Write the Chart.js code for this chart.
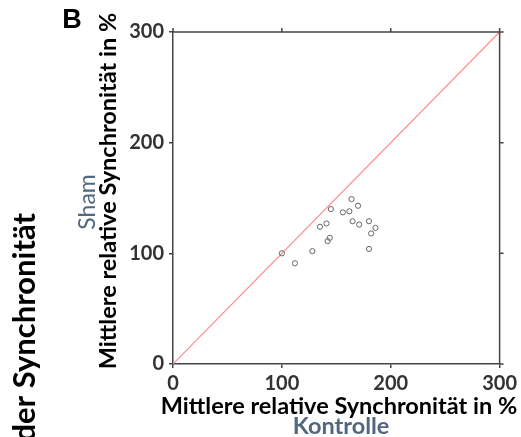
<!DOCTYPE html>
<html>
<head>
<meta charset="utf-8">
<script src="https://cdn.jsdelivr.net/npm/chart.js@4"></script>
<style>
  html, body { margin: 0; padding: 0; background: #fff; }
  #wrap { width: 521px; height: 437px; }
</style>
</head>
<body>
<div id="wrap"><canvas id="chart" width="521" height="437"></canvas></div>
<script>
// data set
var kontrolle = [100, 112, 128, 135, 141, 145, 142, 144, 156, 162, 164, 170, 165, 171, 180, 186, 182, 180];
var sham      = [100,  91, 102, 124, 127, 140, 111, 114, 137, 138, 149, 143, 129, 126, 129, 123, 118, 104];
var identity  = [0, 300];
var tickValues = [0, 100, 200, 300];

const axisTitle = 'Mittlere relative Synchronität in %';
const slate = '#53677f';

var points = kontrolle.map((k, i) => ({ x: k, y: sham[i] }));
var diag = identity.map(v => ({ x: v, y: v }));

// box + extra text
const decor = {
  id: 'decor',
  afterDraw(chart) {
    const ctx = chart.ctx;
    const a = chart.chartArea;
    const xs = chart.scales.x, ys = chart.scales.y;
    ctx.save();
    ctx.strokeStyle = '#444';
    ctx.lineWidth = 1.5;
    ctx.beginPath();
    ctx.moveTo(a.left, a.top); ctx.lineTo(a.right, a.top); ctx.lineTo(a.right, a.bottom);
    tickValues.forEach(v => {
      const px = xs.getPixelForValue(v);
      ctx.moveTo(px, a.top); ctx.lineTo(px, a.top - 4);
      const py = ys.getPixelForValue(v);
      ctx.moveTo(a.right, py); ctx.lineTo(a.right + 4, py);
    });
    ctx.stroke();

    ctx.fillStyle = '#000';
    ctx.textAlign = 'center';
    ctx.textBaseline = 'middle';
    ctx.font = 'bold 23.5px Lato';
    ctx.fillText(axisTitle, 339, 406);
    ctx.fillStyle = slate;
    ctx.fillText('Kontrolle', 341, 426);

    ctx.save();
    ctx.translate(108, 191);
    ctx.rotate(-Math.PI / 2);
    ctx.fillStyle = '#000';
    ctx.fillText(axisTitle, 0, 0);
    ctx.restore();

    ctx.save();
    ctx.translate(88, 202);
    ctx.rotate(-Math.PI / 2);
    ctx.fillStyle = slate;
    ctx.font = '23px Lato';
    ctx.fillText('Sham', 0, 0);
    ctx.restore();

    ctx.save();
    ctx.translate(25, 213);
    ctx.rotate(-Math.PI / 2);
    ctx.fillStyle = '#000';
    ctx.font = 'bold 31px Lato';
    ctx.textAlign = 'right';
    ctx.fillText('Mittlere relative Änderung der Synchronität', 0, 0);
    ctx.restore();

    ctx.fillStyle = '#000';
    ctx.font = 'bold 27px "Liberation Sans"';
    ctx.textAlign = 'center';
    ctx.fillText('B', 72, 21);
    ctx.restore();
  }
};

new Chart('chart', {
  type: 'scatter',
  data: {
    datasets: [
      {
        type: 'line',
        data: diag,
        borderColor: '#ff8a8a',
        borderWidth: 1.2,
        pointRadius: 0,
        order: 2
      },
      {
        data: points,
        borderColor: '#666',
        backgroundColor: 'rgba(0,0,0,0)',
        borderWidth: 1,
        pointRadius: 2.6,
        order: 1
      }
    ]
  },
  options: {
    responsive: false,
    animation: false,
    layout: { padding: { left: 0, right: 16, top: 32, bottom: 0 } },
    plugins: { legend: { display: false }, tooltip: { enabled: false } },
    scales: {
      x: {
        type: 'linear', min: 0, max: 300,
        afterFit: s => { s.height = 73; },
        afterBuildTicks: s => { s.ticks = tickValues.map(v => ({ value: v })); },
        ticks: { color: '#333', font: { family: 'Lato', size: 20, weight: 'bold' }, padding: 4 },
        grid: { display: true, drawOnChartArea: false, tickLength: 4, color: '#444', lineWidth: 1.5 },
        border: { color: '#444', width: 1.5 }
      },
      y: {
        type: 'linear', min: 0, max: 300,
        afterFit: s => { s.width = 173; },
        afterBuildTicks: s => { s.ticks = tickValues.map(v => ({ value: v })); },
        ticks: { color: '#333', font: { family: 'Lato', size: 20, weight: 'bold' }, padding: 5 },
        grid: { display: true, drawOnChartArea: false, tickLength: 4, color: '#444', lineWidth: 1.5 },
        border: { color: '#444', width: 1.5 }
      }
    }
  },
  plugins: [decor]
});
</script>
</body>
</html>
